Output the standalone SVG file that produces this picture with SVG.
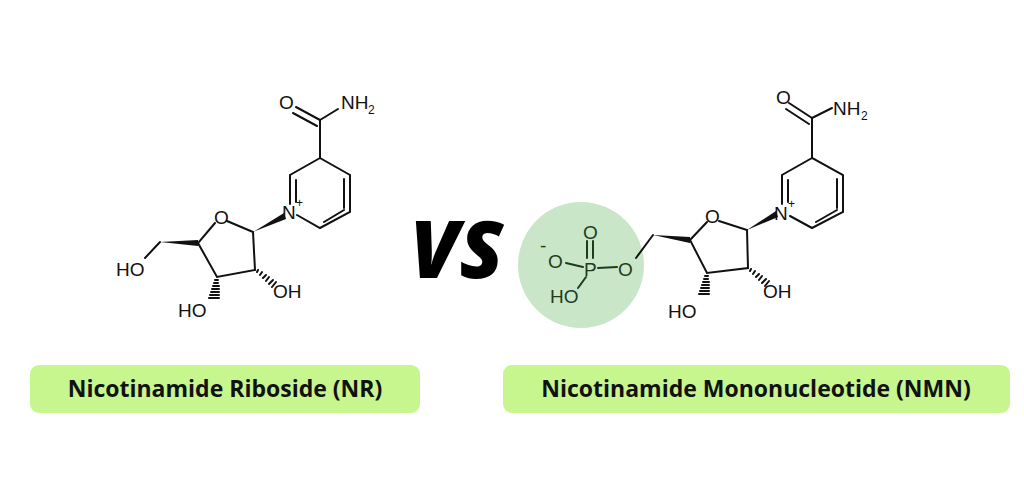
<svg xmlns="http://www.w3.org/2000/svg" width="1024" height="498" viewBox="0 0 1024 498">
<style>
.b{stroke:#111;stroke-width:2;fill:none;stroke-linecap:round}
.g{stroke:#1f3b1f}
.t{font-family:"Liberation Sans",Arial,sans-serif;font-size:19px;fill:#111}
.tg{fill:#1f3b1f}
.s{font-size:12px}
.lab{font-family:"Open Sans","Liberation Sans",sans-serif;font-weight:bold;font-size:23px;fill:#111}
.box{fill:#c6f68d}
</style>
<rect width="1024" height="498" fill="#fff"/>
<g id="nr">
<path class="b" d="M296,107 L320,120 M293,113 L317,126 M320,120 L338,109 M320,120 L320,158 L350,175 L350,212 L320,228 L297,215 M290,204 L290,175 L320,158 M296,202 L296,180 M344,179 L344,208 M324,222 L344,210 M227,221 L253,232 L255,270 L217,277 L198,243 L215,223 M160,242 L145,258"/>
<polygon points="253,232 284,213 286,219" fill="#111"/>
<polygon points="198,240 198,246 160,242" fill="#111"/>
<path class="b" stroke-width="1.3" d="M257,272 l1,-2 M260,275 l2,-3 M263,278 l3,-3 M266,281 l3,-4 M269,284 l4,-4 M272,287 l4,-5 M215,280 l3,0 M214,283 l4,0 M213,286 l6,0 M212,289 l7,0 M211,292 l8,0 M210,295 l9,0 M209,298 l10,0"/>
<text class="t" x="279" y="109">O</text>
<text class="t" x="341" y="109">NH</text><text class="t s" x="368" y="114">2</text>
<text class="t" x="282" y="219">N</text><text class="t s" x="296" y="207">+</text>
<text class="t" x="214" y="224">O</text>
<text class="t" x="116" y="276">HO</text>
<text class="t" x="273" y="298">OH</text>
<text class="t" x="178" y="317">HO</text>
</g>
<g id="vs"><text x="410" y="278" font-family="'Open Sans','Liberation Sans',sans-serif" font-weight="800" font-style="italic" font-size="80" fill="#000">VS</text></g>
<g id="nmn">
<circle cx="581" cy="265" r="63" fill="#c9e6c8"/>
<path class="b" d="M789,103 L812,118 M786,109 L809,124 M812,118 L832,108 M812,118 L812,158 L843,175 L843,212 L812,228 L790,216 M782,204 L782,175 L812,158 M788,202 L788,180 M837,179 L837,208 M816,222 L837,210 M719,221 L747,230 L748,268 L707,273 L690,240 L707,222 M653,235 L636,258"/>
<polygon points="747,230 776,211 778,217" fill="#111"/>
<polygon points="690,237 690,243 653,235" fill="#111"/>
<path class="b" stroke-width="1.3" d="M750,271 l1,-2 M753,274 l2,-3 M756,277 l3,-3 M759,280 l3,-4 M762,283 l4,-4 M765,286 l4,-5 M705,276 l3,0 M704,279 l4,0 M703,282 l6,0 M702,285 l7,0 M701,288 l8,0 M700,291 l9,0 M699,294 l10,0"/>
<path class="b g" d="M587,241 L587,258 M593,241 L593,258 M566,263 L583,267 M598,268 L617,267 M586,277 L578,288"/>
<text class="t" x="776" y="104">O</text>
<text class="t" x="833" y="115">NH</text><text class="t s" x="861" y="120">2</text>
<text class="t" x="774" y="220">N</text><text class="t s" x="788" y="208">+</text>
<text class="t" x="705" y="223">O</text>
<text class="t" x="763" y="298">OH</text>
<text class="t" x="668" y="318">HO</text>
<text class="t tg" x="583" y="239">O</text>
<text class="t tg" x="584" y="276">P</text>
<text class="t tg" x="548" y="268">O</text>
<text class="t tg" x="540" y="252" font-size="16">-</text>
<text class="t tg" x="618" y="276">O</text>
<text class="t tg" x="550" y="303">HO</text>
</g>
<g id="label-nr"><rect class="box" x="30" y="365" width="390" height="48" rx="9"/><text class="lab" x="225" y="397" text-anchor="middle">Nicotinamide Riboside (NR)</text></g>
<g id="label-nmn"><rect class="box" x="503" y="365" width="507" height="48" rx="9"/><text class="lab" x="756" y="397" text-anchor="middle">Nicotinamide Mononucleotide (NMN)</text></g>
</svg>
